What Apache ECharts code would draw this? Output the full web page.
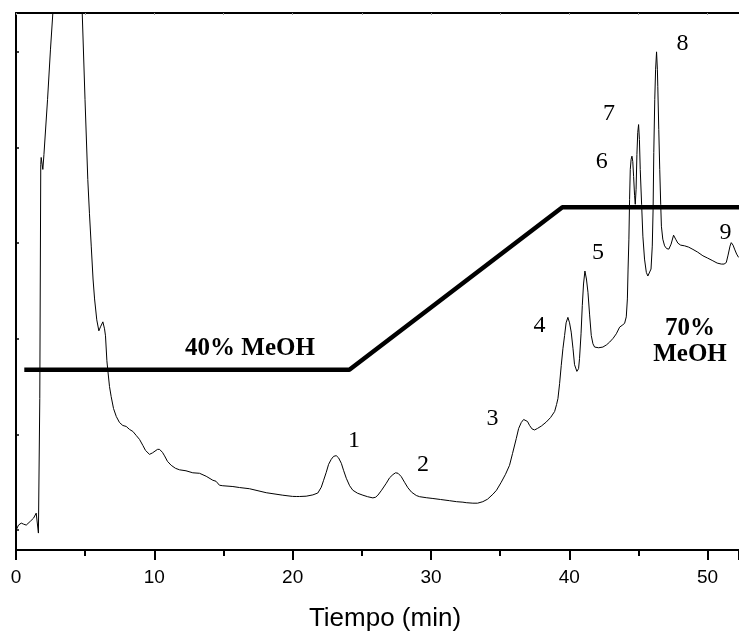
<!DOCTYPE html>
<html>
<head>
<meta charset="utf-8">
<script src="https://cdn.jsdelivr.net/npm/echarts@6/dist/echarts.min.js"></script>
<style>
html,body{margin:0;padding:0;background:#fff;}
#chart{width:739px;height:637px;}
</style>
</head>
<body>
<div id="chart"></div>
<script>
// Chromatogram trace: retention time (min) and detector signal (arbitrary units)
const traceTime = [0.01,0.18,0.38,0.54,0.74,1.05,1.27,1.46,1.53,1.62,1.64,1.72,1.79,1.82,1.94,2.02,2.28,2.49,2.66,
 3.2,3.7,4.2,4.79,4.99,5.19,5.31,5.44,5.57,5.68,5.84,5.99,6.11,6.28,6.40,6.47,6.57,6.64,6.76,6.88,7.05,7.25,7.48,7.72,7.97,
 8.21,8.45,8.69,8.93,9.17,9.36,9.65,9.87,10.01,10.23,10.38,10.59,10.74,10.95,11.22,11.53,11.82,12.29,12.33,12.36,12.78,13.27,
 13.75,14.23,14.46,14.50,14.54,14.71,14.95,15.68,16.16,16.88,18.09,19.29,19.99,20.26,20.50,20.98,21.46,21.82,22.07,22.24,22.43,
 22.60,22.79,22.96,23.15,23.32,23.52,23.68,23.88,24.12,24.35,24.69,25.08,25.42,25.80,26.00,26.16,26.43,26.77,27.01,27.25,27.44,
 27.62,27.85,28.09,28.33,28.60,28.94,29.18,29.66,30.14,30.69,31.34,31.85,32.31,32.43,32.55,33.03,33.37,33.75,34.09,34.48,34.74,
 35.08,35.39,35.68,35.90,36.17,36.34,36.53,36.70,36.84,36.98,37.13,37.31,37.49,37.70,37.99,38.34,38.65,38.94,39.08,39.18,39.30,
 39.42,39.54,39.66,39.77,39.90,40.02,40.14,40.27,40.38,40.55,40.67,40.74,40.85,40.94,41.03,41.13,41.24,41.35,41.47,41.59,41.71,
 41.83,42.12,42.43,42.70,42.92,43.17,43.40,43.64,43.82,44.00,44.12,44.20,44.25,44.31,44.36,44.41,44.47,44.53,44.59,44.65,44.72,
 44.77,44.83,44.89,44.95,45.01,45.07,45.13,45.23,45.32,45.44,45.57,45.68,45.81,45.91,46.00,46.06,46.11,46.18,46.24,46.31,46.37,
 46.40,46.47,46.54,46.61,46.66,46.76,46.89,47.04,47.20,47.36,47.54,47.69,47.85,48.05,48.34,48.48,48.63,48.94,49.28,49.66,50.00,
 50.38,50.69,50.99,51.19,51.35,51.48,51.62,51.71,51.84,51.95,52.10,52.24];
const traceSignal = [20,25,27,26,25,29,32,37,35,17,17,152,387,394,382,397,452,502,538,
 640,690,640,538,452,372,338,305,272,252,231,220,224,229,222,215,190,180,164,154,142,134,128,125,124,
 121,119,115,111,105,100,96,97.5,99,101,101,98,94.5,89,85,82,80.5,79.5,81,78,77.5,77,
 74,70,69,70.5,67.5,65,64.5,63.7,62.7,61.5,57.5,55,53.8,53.7,53.7,54,55.3,57.2,63,70,78,
 86,91,94,94.7,92.5,87,80,72,64.5,60,57,55,53.5,52.3,53,55,60,67,72.5,75.7,77.5,
 77,73.7,68,62.5,58,54.7,53.5,52.5,51.7,50.7,49.5,48.5,48,49,47.5,47,47,48.5,51,56,60,
 68,76,85,97,112,122,128,131,131.5,129,125,121.5,120.5,122,124.5,128.5,133,139,146,152,167,
 185.3,202,215.3,228,233.5,228,218.7,202,186,179.3,182,192,217,245.3,267,280,272,258.7,236,215.3,207,
 203.7,203,203.7,206,208.7,212.5,217,223.7,225.5,227.5,234,252,282,312,352,382,392,395.3,390,375,356,
 347,362,397,419,427,412,382,347,315,292,278.7,275,274.7,282,305,342,399,452,482,500,482,
 465,422,382,347,325,312,305.3,302.5,302,307,316,312,308,306,305.3,307,304,301.7,299,295.3,293,
 290.3,288,287,287,288.5,296,305,308.5,306,302,297,293.7];

// Mobile-phase gradient (% MeOH program) drawn as a step/ramp line
const gradientTime = [0.6, 24.1, 39.5, 52.27];
const gradientLevel = [181, 181, 344, 344];

// Tick values
const xTicks = [0, 10, 20, 30, 40, 50];
const yTickValues = [20, 116, 212, 308, 404, 500];

// Annotation texts
const peakNames = ['1','2','3','4','5','6','7','8','9'];
const phaseTexts = ['40% MeOH', '70%\nMeOH'];
const xTitle = 'Tiempo (min)';

const peakLabelPos = [[354,441],[423,465],[492.5,419],[539.5,326],[598,253],[601.7,162],[609,114],[682.5,44],[725.5,232.5]];
const phaseLabelPos = [[250,348.3],[690,342]];

const chart = echarts.init(document.getElementById('chart'), null, {renderer:'canvas'});

const graphics = [];
peakNames.forEach((t, i) => {
  graphics.push({
    type: 'text', silent: true,
    style: {
      text: t, x: peakLabelPos[i][0], y: peakLabelPos[i][1],
      align: 'center', verticalAlign: 'middle',
      fontFamily: '"Liberation Serif","Times New Roman",serif', fontSize: 24, fill: '#000'
    }
  });
});
phaseTexts.forEach((t, i) => {
  graphics.push({
    type: 'text', silent: true,
    style: {
      text: t, x: phaseLabelPos[i][0], y: phaseLabelPos[i][1],
      align: 'center', verticalAlign: 'middle', lineHeight: 26,
      fontFamily: '"Liberation Serif","Times New Roman",serif', fontSize: 25, fontWeight: 'bold', fill: '#000'
    }
  });
});

chart.setOption({
  animation: false,
  backgroundColor: '#fff',
  grid: { left: 16, right: 0, top: 13, bottom: 85, containLabel: false },
  xAxis: [{
    type: 'value', position: 'bottom', min: 0, max: 52.27, interval: 10,
    name: xTitle, nameLocation: 'middle', nameGap: 56,
    nameTextStyle: { fontFamily: '"Liberation Sans",Arial,sans-serif', fontSize: 26, color: '#000', padding: [0,0,0,15] },
    axisLine: { show: true, onZero: false, lineStyle: { color: '#000', width: 2 } },
    axisTick: { show: true, inside: false, length: 10, lineStyle: { color: '#000', width: 2 } },
    minorTick: { show: true, splitNumber: 2, length: 6, lineStyle: { color: '#000', width: 2 } },
    axisLabel: { show: true, margin: 18, fontFamily: '"Liberation Sans",Arial,sans-serif', fontSize: 19, color: '#000',
      customValues: xTicks },
    splitLine: { show: false }
  }, {
    type: 'value', position: 'top', min: 0, max: 52.27, interval: 5,
    axisLine: { show: true, onZero: false, lineStyle: { color: '#000', width: 2 } },
    axisTick: { show: true, inside: true, length: 2, lineStyle: { color: '#999', width: 1 } },
    axisLabel: { show: false },
    splitLine: { show: false }
  }],
  yAxis: {
    type: 'value', min: 0, max: 539,
    axisLine: { show: true, onZero: false, lineStyle: { color: '#000', width: 2 } },
    axisTick: { show: true, inside: true, length: 3, lineStyle: { color: '#000', width: 1.5 }, customValues: yTickValues },
    axisLabel: { show: false },
    splitLine: { show: false }
  },
  series: [{
    type: 'line', name: 'trace', xAxisIndex: 0, symbol: 'none', clip: true,
    lineStyle: { color: '#000', width: 1 },
    data: traceTime.map((t, i) => [t, traceSignal[i]])
  }, {
    type: 'line', name: 'gradient', xAxisIndex: 0, symbol: 'none', clip: false,
    lineStyle: { color: '#000', width: 4.5 },
    data: gradientTime.map((t, i) => [t, gradientLevel[i]])
  }],
  graphic: graphics
});
</script>
</body>
</html>
